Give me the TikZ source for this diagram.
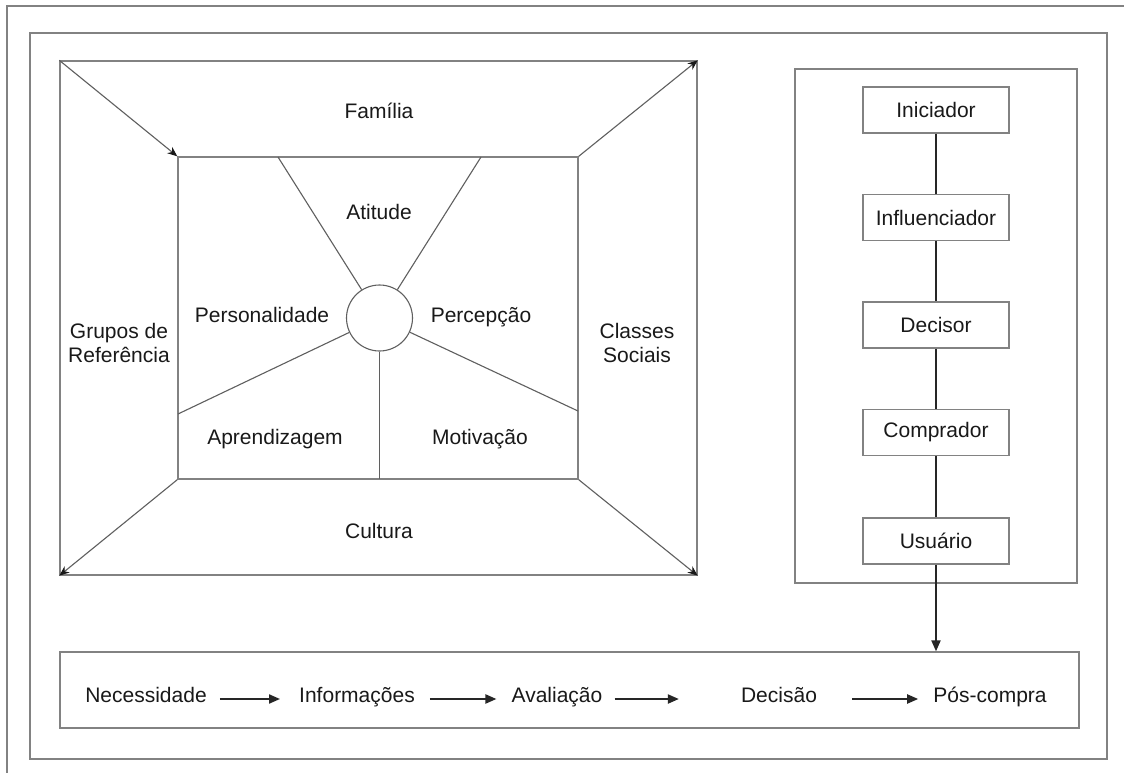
\documentclass[tikz,border=0pt]{standalone}
\usepackage{fontspec}
\setmainfont{Liberation Sans}
\usetikzlibrary{arrows.meta}
\definecolor{framegray}{RGB}{130,130,130}
\definecolor{linegray}{RGB}{95,95,95}
\definecolor{textcol}{RGB}{25,25,25}
\begin{document}
\begin{tikzpicture}[x=1pt,y=-1pt,
  font=\fontsize{21}{24}\selectfont, text=textcol,
  frame/.style={draw=framegray, line width=1.3pt},
  rectnode/.style={frame, inner sep=0pt},
  spoke/.style={draw=linegray, line width=1.1pt},
  diag/.style={draw=linegray, line width=1.1pt, -{Stealth[length=10pt,width=8pt,color=black!90]}},
  rolebox/.style={draw=framegray, line width=1.2pt, minimum width=146pt, minimum height=46pt, inner sep=0pt},
  link/.style={draw=black!85, line width=2pt},
  arr/.style={draw=black!85, line width=2pt, -{Triangle[length=11pt,width=9pt]}},
  lbl/.style={anchor=base, inner sep=0pt, align=center},
  stagetxt/.style={inner sep=0pt, anchor=base, text height=10pt, text depth=4pt}
]
\useasboundingbox (0,0) rectangle (1124,773);
\fill[white] (0,0) rectangle (1124,773);
% page and outer frames
\draw[frame] (7,773) -- (7,6) -- (1124,6);
\draw[frame] (30,33) rectangle (1107,759);

% left frustum
\node[rectnode, minimum width=637pt, minimum height=514pt] (outer) at (378.5,318) {};
\node[rectnode, minimum width=400pt, minimum height=322pt] (inner) at (378,318) {};
\draw[diag] (outer.north west) -- (inner.north west);
\draw[diag] (inner.north east) -- (outer.north east);
\draw[diag] (inner.south west) -- (outer.south west);
\draw[diag] (inner.south east) -- (outer.south east);

\node[circle, draw=linegray, line width=1.1pt, minimum size=66pt, inner sep=0pt] (hub) at (379.5,318) {};
\coordinate (s1) at (278,157);
\coordinate (s2) at (481,157);
\coordinate (s3) at (178,414);
\coordinate (s4) at (578,411);
\coordinate (s5) at (379.5,479);
\foreach \s in {s1,s2,s3,s4,s5} \draw[spoke] (hub) -- (\s);

\node[lbl] (familia) at (379,119) {Família};
\node[lbl] (atitude) at (379,219) {Atitude};
\node[lbl] (pers) at (262,322) {Personalidade};
\node[lbl] (perc) at (481,322) {Percepção};
\node[lbl] (grupos) at (119,338) {Grupos de};
\node[lbl] (refer) at (119,362) {Referência};
\node[lbl] (classes) at (637,338) {Classes};
\node[lbl] (sociais) at (637,362) {Sociais};
\node[lbl] (aprend) at (275,444) {Aprendizagem};
\node[lbl] (motiv) at (480,444) {Motivação};
\node[lbl] (cultura) at (379,538) {Cultura};

% right panel
\node[rectnode, minimum width=282pt, minimum height=514pt] (panel) at (936,326) {};
\node[rolebox] (ini) at (936,110) {Iniciador};
\node[rolebox] (inf) at (936,217.5) {Influenciador};
\node[rolebox] (dec) at (936,325) {Decisor};
\node[rolebox] (comp) at (936,432.5) {Comprador};
\node[rolebox] (usu) at (936,541) {Usuário};
\draw[link] (ini) -- (inf);
\draw[link] (inf) -- (dec);
\draw[link] (dec) -- (comp);
\draw[link] (comp) -- (usu);

% bottom process
\node[rectnode, minimum width=1019pt, minimum height=76pt] (proc) at (569.5,690) {};
\draw[arr] (usu.south) -- (usu.south |- proc.north);

\node[stagetxt] (nec) at (146,702) {Necessidade};
\node[stagetxt] (infos) at (357,702) {Informações};
\node[stagetxt] (aval) at (557,702) {Avaliação};
\node[stagetxt] (decis) at (779,702) {Decisão};
\node[stagetxt] (pos) at (990,702) {Pós-compra};
\draw[arr, shorten <=13pt, shorten >=19pt] (nec.east) -- (infos.west);
\draw[arr, shorten <=15pt, shorten >=15pt] (infos.east) -- (aval.west);
\draw[arr, shorten <=12pt, shorten >=62pt] (aval.east) -- (decis.west);
\draw[arr, shorten <=35pt, shorten >=15pt] (decis.east) -- (pos.west);
\end{tikzpicture}
\end{document}
